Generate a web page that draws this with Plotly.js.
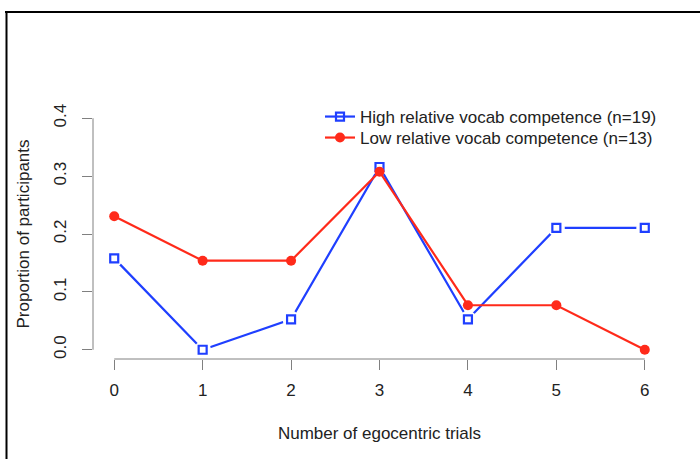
<!DOCTYPE html>
<html>
<head>
<meta charset="utf-8">
<script src="https://cdn.plot.ly/plotly-3.0.1.min.js"></script>
<style>html,body{margin:0;padding:0;background:#fff;}#chart{width:700px;height:459px;}</style>
</head>
<body>
<div id="chart"></div>
<script>
// Data
const trials = [0, 1, 2, 3, 4, 5, 6];
const highVocab = [3/19, 0/19, 1/19, 6/19, 1/19, 4/19, 4/19];
const lowVocab = [3/13, 2/13, 2/13, 4/13, 1/13, 1/13, 0/13];
const highName = 'High relative vocab competence (n=19)';
const lowName = 'Low relative vocab competence (n=13)';
const xTickLabels = ['0', '1', '2', '3', '4', '5', '6'];
const yTickVals = [0, 0.1, 0.2, 0.3, 0.4];
const yTickLabels = ['0.0', '0.1', '0.2', '0.3', '0.4'];

const W = 700, H = 459;
const M = {l: 93, r: 34, t: 109, b: 100};
const blue = '#1f3fff';
const red = '#ff2a1a';
const font = 'Liberation Sans, Arial, sans-serif';
const fs = 17;

// pixel -> paper helpers (for the figure frame / legend placement only)
const pw = W - M.l - M.r, ph = H - M.t - M.b;
const px2x = p => (p - M.l) / pw;
const px2y = p => (H - M.b - p) / ph;

const traces = [
  {x: trials, y: highVocab, name: highName, type: 'scatter', mode: 'lines+markers', legend: 'legend',
   line: {color: blue, width: 2.2},
   marker: {symbol: 'square-open', size: 8, color: blue, line: {color: blue, width: 2.2}},
   cliponaxis: false},
  {x: trials, y: highVocab, type: 'scatter', mode: 'markers', showlegend: false, hoverinfo: 'skip',
   marker: {symbol: 'circle', size: 17, color: '#ffffff', line: {width: 0}}, cliponaxis: false},
  {x: trials, y: highVocab, type: 'scatter', mode: 'markers', showlegend: false, hoverinfo: 'skip',
   marker: {symbol: 'square-open', size: 8, color: blue, line: {color: blue, width: 2.2}}, cliponaxis: false},
  {x: trials, y: lowVocab, name: lowName, type: 'scatter', mode: 'lines+markers', legend: 'legend2',
   line: {color: red, width: 2.2},
   marker: {symbol: 'circle', size: 10, color: red}, cliponaxis: false}
];

const legendStyle = (top) => ({
  x: px2x(320), y: px2y(top), xanchor: 'left', yanchor: 'top',
  bgcolor: 'rgba(0,0,0,0)', font: {family: font, size: fs, color: '#222'},
  tracegroupgap: 0, itemwidth: 30
});

const layout = {
  width: W, height: H,
  margin: M,
  paper_bgcolor: '#ffffff', plot_bgcolor: '#ffffff',
  font: {family: font, size: fs, color: '#222'},
  showlegend: true,
  legend: legendStyle(99),
  legend2: legendStyle(120),
  xaxis: {range: [-0.24, 6.24], tickvals: trials, ticktext: xTickLabels,
          showgrid: false, zeroline: false, showline: false,
          ticks: 'outside', ticklen: 10, tickwidth: 1, tickcolor: '#808080',
          ticklabelstandoff: 6,
          tickfont: {family: font, size: fs, color: '#222'},
          title: {text: 'Number of egocentric trials', font: {family: font, size: fs, color: '#222'}, standoff: 27},
          automargin: false, fixedrange: true},
  yaxis: {range: [-0.016, 0.416], tickvals: yTickVals, ticktext: yTickLabels,
          showgrid: false, zeroline: false, showline: false,
          ticks: 'outside', ticklen: 10, tickwidth: 1, tickcolor: '#808080',
          tickangle: -90, ticklabelstandoff: 9,
          tickfont: {family: font, size: fs, color: '#222'},
          title: {text: 'Proportion of participants', font: {family: font, size: fs, color: '#222'}, standoff: 17},
          automargin: false, fixedrange: true},
  shapes: [
    // axis lines spanning only the tick range (R style)
    {type: 'line', xref: 'x', yref: 'paper', x0: trials[0], x1: trials[trials.length - 1], y0: 0, y1: 0,
     line: {color: '#808080', width: 1}},
    {type: 'line', xref: 'paper', yref: 'y', x0: 0, x1: 0, y0: yTickVals[0], y1: yTickVals[yTickVals.length - 1],
     line: {color: '#808080', width: 1}},
    // figure frame
    {type: 'line', xref: 'paper', yref: 'paper', x0: px2x(5), x1: px2x(702), y0: px2y(12), y1: px2y(12),
     line: {color: '#000', width: 2}},
    {type: 'line', xref: 'paper', yref: 'paper', x0: px2x(6.5), x1: px2x(6.5), y0: px2y(11), y1: px2y(462),
     line: {color: '#000', width: 2}}
  ]
};

Plotly.newPlot('chart', traces, layout, {displayModeBar: false, staticPlot: true});
</script>
</body>
</html>
